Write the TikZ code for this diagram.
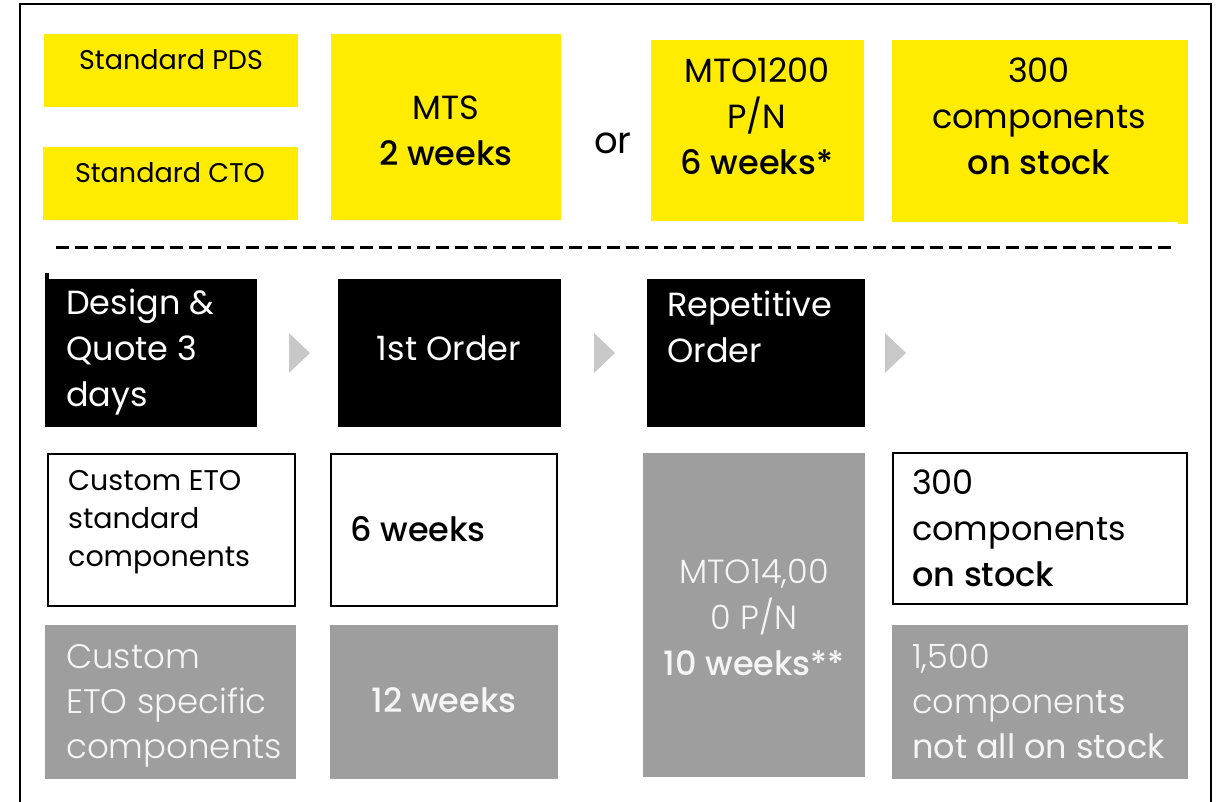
\documentclass[tikz,border=0pt]{standalone}
\usepackage{fontspec}
\setmainfont{Poppins}[BoldFont={Poppins Medium}]
\newfontfamily\lightf{Poppins Light}
\usetikzlibrary{shapes.geometric}
\definecolor{eyyellow}{RGB}{255,236,0}
\definecolor{eygray}{RGB}{158,158,158}
\definecolor{arrowgray}{RGB}{200,200,200}
\definecolor{softwhite}{RGB}{245,245,245}
\tikzset{
  box/.style={anchor=north west, inner sep=0pt, outer sep=0pt},
  yel/.style={box, fill=eyyellow},
  blk/.style={box, fill=black},
  gry/.style={box, fill=eygray},
  wht/.style={box, fill=white, draw=black, line width=2.5pt},
  big/.style={font=\fontsize{33.5}{46}\selectfont, inner sep=0pt},
  txt/.style={inner sep=0pt},
  chev/.style={fill=arrowgray, draw=none},
}
\newcommand{\bx}[6]{\node[#1, minimum width=#4-#2, minimum height=#5-#3] (#6) at (#2,#3) {};}
\newcommand{\chevron}[1]{\fill[chev] (#1) -- ++(0,-20) -- ++(21,20) -- ++(-21,20) -- cycle;}
\begin{document}
\begin{tikzpicture}[x=1pt,y=-1pt]
\useasboundingbox (0,0) rectangle (1218,802);
% frame
\draw[line width=2.5pt] (20,803) -- (20,4) -- (1211,4) -- (1211,803);
% top row
\bx{yel}{44}{34}{298}{107}{pds}
\bx{yel}{43}{147}{298}{220}{cto}
\bx{yel}{331}{34}{561}{220}{mts}
\bx{yel}{651}{40}{864}{221}{mto}
\bx{yel}{892}{40}{1183}{222}{stock}
\fill[eyyellow] (1178,40) rectangle (1188,224);
\node[txt, font=\fontsize{27}{30}\selectfont] (tpds) at (171,60) {Standard PDS};
\node[txt, font=\fontsize{27}{30}\selectfont] (tcto) at (170,173) {Standard CTO};
\node[big, align=center] (tmts) at (446,131) {MTS\\\textbf{2 weeks}};
\node[big, font=\fontsize{37}{46}\selectfont] (tor) at (613,143) {or};
\node[big, align=center] (tmto) at (757,116) {MTO1200\\P/N\\\textbf{6 weeks*}};
\node[big, align=center] (tstock) at (1039,116) {300\\components\\\textbf{on stock}};
% dashed separator
\coordinate (dl) at (56,248);
\coordinate (dr) at (1172,248);
\draw[line width=3pt, dash pattern=on 13pt off 6pt] (dl) -- (dr);
% black row
\bx{blk}{45}{279}{257}{427}{design}
\fill[black] (45,273) rectangle (49,279);
\bx{blk}{338}{279}{561}{427}{first}
\bx{blk}{647}{279}{865}{427}{rep}
\node[big, text=white, align=left, anchor=west] (tdesign) at (66,352) {Design \&\\Quote 3\\days};
\node[big, text=white] (tfirst) at (449,348) {1st Order};
\node[big, text=white, align=left, anchor=west] (trep) at (667,327) {Repetitive\\Order};
% chevrons
\coordinate (a1) at (289,353);
\coordinate (a2) at (594,353);
\coordinate (a3) at (885,353);
\chevron{a1}
\chevron{a2}
\chevron{a3}
% lower grid
\bx{wht}{48}{454}{295}{606}{etostd}
\bx{wht}{331}{454}{557}{606}{six}
\bx{gry}{45}{625}{296}{779}{etospec}
\bx{gry}{330}{625}{558}{779}{twelve}
\bx{gry}{643}{453}{865}{777}{mtofour}
\bx{wht}{893}{453}{1187}{604}{stocktwo}
\bx{gry}{892}{625}{1188}{779}{fifteen}
\node[txt, font=\fontsize{28.5}{38}\selectfont, align=left, anchor=west] (tetostd) at (68,522) {Custom ETO\\standard\\components};
\node[big, anchor=west] (tsix) at (350,529) {\textbf{6 weeks}};
\node[txt, font=\fontsize{34}{45}\selectfont, text=softwhite, align=left, anchor=west] (tetospec) at (66,706) {\lightf Custom\\\lightf ETO specific\\\lightf components};
\node[big, text=softwhite] (ttwelve) at (444,700) {\textbf{12 weeks}};
\node[big, text=softwhite, align=center] (tmtofour) at (754,617) {\lightf MTO14,00\\\lightf 0 P/N\\\textbf{10 weeks**}};
\node[big, align=left, anchor=west] (tstocktwo) at (912,528) {300\\components\\\textbf{on stock}};
\node[big, font=\fontsize{33.5}{45}\selectfont, text=softwhite, align=left, anchor=west] (tfifteen) at (912,701) {\lightf 1,500\\{\lightf componen}ts\\not all on stock};
\end{tikzpicture}
\end{document}
